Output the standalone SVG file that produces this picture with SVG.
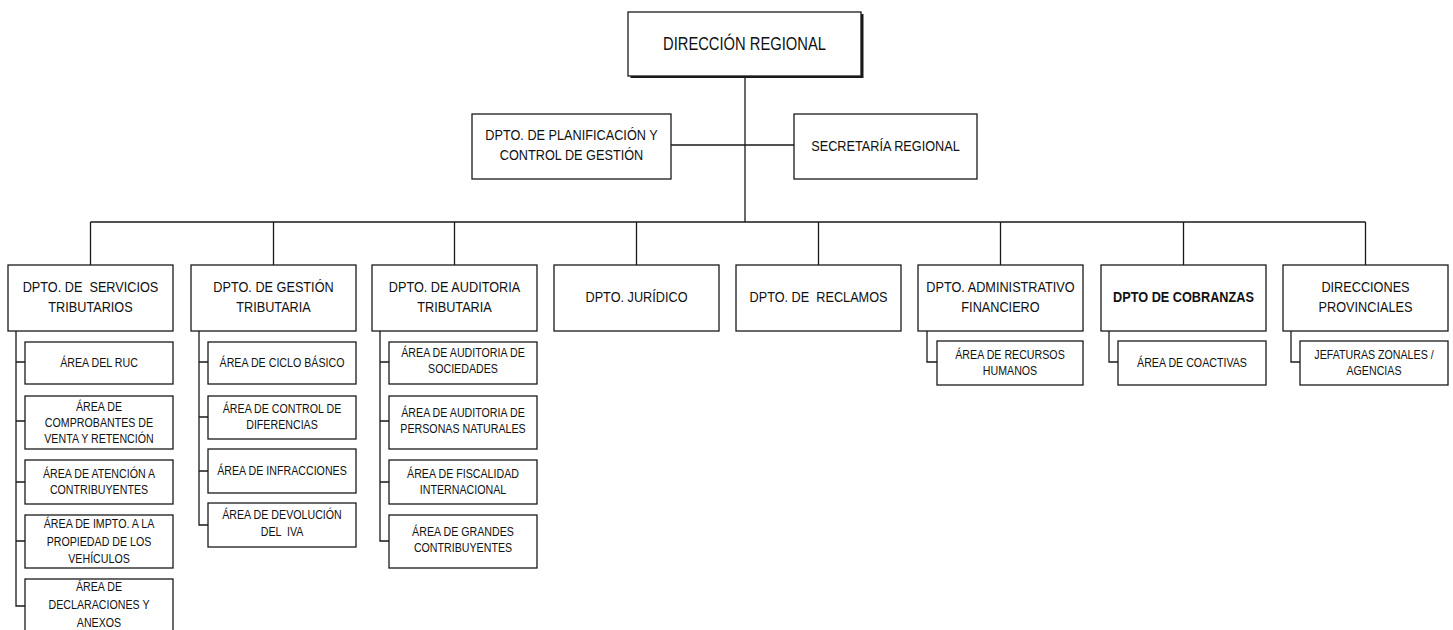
<svg xmlns="http://www.w3.org/2000/svg" width="1453" height="630" viewBox="0 0 1453 630">
<style>
.box{fill:#fff;stroke:#1a1a1a;stroke-width:1.3}
.ln{fill:none;stroke:#1a1a1a;stroke-width:1.3}
text{font-family:"Liberation Sans Narrow","Arial Narrow","Liberation Sans",Arial,sans-serif;fill:#111;text-anchor:middle;dominant-baseline:central}
.t0{font-size:18px}
.t1{font-size:15.5px}
.t2{font-size:13px}
.b{font-weight:bold}
</style>
<rect width="1453" height="630" fill="#fff"/>
<g id="connectors">
<path class="ln" d="M745 76 V222 M671 145 H794 M90.5 222 H1365.5"/>
<path class="ln" d="M90.5 222 V265 M273.5 222 V265 M454.5 222 V265 M636.5 222 V265 M818.5 222 V265 M1000.5 222 V265 M1183.5 222 V265 M1365.5 222 V265"/>
<path class="ln" d="M16 331 V606 H25 M16 362 H25 M16 421 H25 M16 482 H25 M16 541 H25"/>
<path class="ln" d="M199 331 V525 H208 M199 362 H208 M199 417 H208 M199 471 H208"/>
<path class="ln" d="M380 331 V541 H389 M380 362 H389 M380 421 H389 M380 482 H389"/>
<path class="ln" d="M927 331 V362 H937"/>
<path class="ln" d="M1109 331 V362 H1118"/>
<path class="ln" d="M1291 331 V362 H1300"/>
</g>
<g id="n-direccion">
<rect x="630.5" y="14" width="233" height="64" fill="#1a1a1a"/>
<rect class="box" x="628" y="12" width="233" height="64"/>
<text class="t0" transform="translate(744.5 43) scale(.82 1)">DIRECCIÓN REGIONAL</text>
</g>
<g id="n-planificacion">
<rect class="box" x="472" y="114" width="199" height="65"/>
<text class="t1" transform="translate(571.5 135) scale(.82 1)">DPTO. DE PLANIFICACIÓN Y</text>
<text class="t1" transform="translate(571.5 155) scale(.82 1)">CONTROL DE GESTIÓN</text>
</g>
<g id="n-secretaria">
<rect class="box" x="794" y="114" width="183" height="65"/>
<text class="t1" transform="translate(885.5 146) scale(.82 1)">SECRETARÍA REGIONAL</text>
</g>
<g id="n-servicios">
<rect class="box" x="8" y="265" width="165" height="66"/>
<text class="t1" transform="translate(90.5 287) scale(.82 1)" xml:space="preserve">DPTO. DE  SERVICIOS</text>
<text class="t1" transform="translate(90.5 307) scale(.82 1)">TRIBUTARIOS</text>
</g>
<g id="n-gestion">
<rect class="box" x="191" y="265" width="165" height="66"/>
<text class="t1" transform="translate(273.5 287) scale(.82 1)">DPTO. DE GESTIÓN</text>
<text class="t1" transform="translate(273.5 307) scale(.82 1)">TRIBUTARIA</text>
</g>
<g id="n-auditoria">
<rect class="box" x="372" y="265" width="165" height="66"/>
<text class="t1" transform="translate(454.5 287) scale(.82 1)">DPTO. DE AUDITORIA</text>
<text class="t1" transform="translate(454.5 307) scale(.82 1)">TRIBUTARIA</text>
</g>
<g id="n-juridico">
<rect class="box" x="554" y="265" width="165" height="66"/>
<text class="t1" transform="translate(636.5 297) scale(.82 1)">DPTO. JURÍDICO</text>
</g>
<g id="n-reclamos">
<rect class="box" x="736" y="265" width="165" height="66"/>
<text class="t1" transform="translate(818.5 297) scale(.82 1)" xml:space="preserve">DPTO. DE  RECLAMOS</text>
</g>
<g id="n-administrativo">
<rect class="box" x="918" y="265" width="165" height="66"/>
<text class="t1" transform="translate(1000.5 287) scale(.82 1)">DPTO. ADMINISTRATIVO</text>
<text class="t1" transform="translate(1000.5 307) scale(.82 1)">FINANCIERO</text>
</g>
<g id="n-cobranzas">
<rect class="box" x="1101" y="265" width="165" height="66"/>
<text class="t1 b" transform="translate(1183.5 297) scale(.82 1)">DPTO DE COBRANZAS</text>
</g>
<g id="n-provinciales">
<rect class="box" x="1283" y="265" width="165" height="66"/>
<text class="t1" transform="translate(1365.5 287) scale(.82 1)">DIRECCIONES</text>
<text class="t1" transform="translate(1365.5 307) scale(.82 1)">PROVINCIALES</text>
</g>
<g id="n-ruc">
<rect class="box" x="25" y="342" width="148" height="42"/>
<text class="t2" transform="translate(99 363) scale(.82 1)">ÁREA DEL RUC</text>
</g>
<g id="n-comprobantes">
<rect class="box" x="25" y="396" width="148" height="53"/>
<text class="t2" transform="translate(99 407) scale(.82 1)">ÁREA DE</text>
<text class="t2" transform="translate(99 423) scale(.82 1)">COMPROBANTES DE</text>
<text class="t2" transform="translate(99 439) scale(.82 1)">VENTA Y RETENCIÓN</text>
</g>
<g id="n-atencion">
<rect class="box" x="25" y="460" width="148" height="44"/>
<text class="t2" transform="translate(99 474) scale(.82 1)">ÁREA DE ATENCIÓN A</text>
<text class="t2" transform="translate(99 490) scale(.82 1)">CONTRIBUYENTES</text>
</g>
<g id="n-impto">
<rect class="box" x="25" y="515" width="148" height="53"/>
<text class="t2" transform="translate(99 524) scale(.82 1)">ÁREA DE IMPTO. A LA</text>
<text class="t2" transform="translate(99 542) scale(.82 1)">PROPIEDAD DE LOS</text>
<text class="t2" transform="translate(99 559) scale(.82 1)">VEHÍCULOS</text>
</g>
<g id="n-declaraciones">
<rect class="box" x="25" y="579" width="148" height="56"/>
<text class="t2" transform="translate(99 587) scale(.82 1)">ÁREA DE</text>
<text class="t2" transform="translate(99 605) scale(.82 1)">DECLARACIONES Y</text>
<text class="t2" transform="translate(99 623) scale(.82 1)">ANEXOS</text>
</g>
<g id="n-ciclo">
<rect class="box" x="208" y="342" width="148" height="42"/>
<text class="t2" transform="translate(282 363) scale(.82 1)">ÁREA DE CICLO BÁSICO</text>
</g>
<g id="n-diferencias">
<rect class="box" x="208" y="396" width="148" height="43"/>
<text class="t2" transform="translate(282 409) scale(.82 1)">ÁREA DE CONTROL DE</text>
<text class="t2" transform="translate(282 425) scale(.82 1)">DIFERENCIAS</text>
</g>
<g id="n-infracciones">
<rect class="box" x="208" y="449" width="148" height="44"/>
<text class="t2" transform="translate(282 471) scale(.82 1)">ÁREA DE INFRACCIONES</text>
</g>
<g id="n-devolucion">
<rect class="box" x="208" y="503" width="148" height="44"/>
<text class="t2" transform="translate(282 515) scale(.82 1)">ÁREA DE DEVOLUCIÓN</text>
<text class="t2" transform="translate(282 532) scale(.82 1)" xml:space="preserve">DEL  IVA</text>
</g>
<g id="n-sociedades">
<rect class="box" x="389" y="342" width="148" height="42"/>
<text class="t2" transform="translate(463 353) scale(.82 1)">ÁREA DE AUDITORIA DE</text>
<text class="t2" transform="translate(463 369) scale(.82 1)">SOCIEDADES</text>
</g>
<g id="n-personas">
<rect class="box" x="389" y="396" width="148" height="53"/>
<text class="t2" transform="translate(463 413) scale(.82 1)">ÁREA DE AUDITORIA DE</text>
<text class="t2" transform="translate(463 429) scale(.82 1)">PERSONAS NATURALES</text>
</g>
<g id="n-fiscalidad">
<rect class="box" x="389" y="460" width="148" height="44"/>
<text class="t2" transform="translate(463 474) scale(.82 1)">ÁREA DE FISCALIDAD</text>
<text class="t2" transform="translate(463 490) scale(.82 1)">INTERNACIONAL</text>
</g>
<g id="n-grandes">
<rect class="box" x="389" y="515" width="148" height="53"/>
<text class="t2" transform="translate(463 532) scale(.82 1)">ÁREA DE GRANDES</text>
<text class="t2" transform="translate(463 548) scale(.82 1)">CONTRIBUYENTES</text>
</g>
<g id="n-rrhh">
<rect class="box" x="937" y="341" width="146" height="44"/>
<text class="t2" transform="translate(1010 355) scale(.82 1)">ÁREA DE RECURSOS</text>
<text class="t2" transform="translate(1010 371) scale(.82 1)">HUMANOS</text>
</g>
<g id="n-coactivas">
<rect class="box" x="1118" y="341" width="148" height="44"/>
<text class="t2" transform="translate(1192 363) scale(.82 1)">ÁREA DE COACTIVAS</text>
</g>
<g id="n-jefaturas">
<rect class="box" x="1300" y="341" width="148" height="44"/>
<text class="t2" transform="translate(1374 355) scale(.82 1)">JEFATURAS ZONALES /</text>
<text class="t2" transform="translate(1374 371) scale(.82 1)">AGENCIAS</text>
</g>
</svg>
